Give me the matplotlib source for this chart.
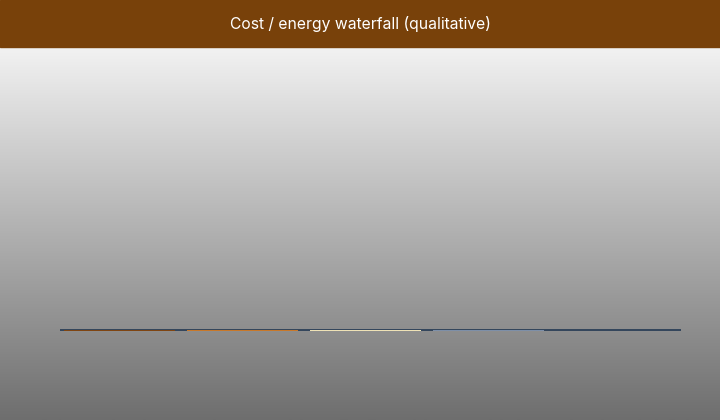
import numpy as np
import matplotlib
matplotlib.use("Agg")
import matplotlib.pyplot as plt
from matplotlib.patches import Rectangle

# waterfall steps (qualitative, all flat in the reference)
steps = ["Step 1", "Step 2", "Step 3", "Step 4", "Total"]
deltas = [0.0, 0.0, 0.0, 0.0, 0.0]
colors = ["#7f4512", "#c8782a", "#efe2b6", "#7d8fa8", "#34465c"]

fig = plt.figure(figsize=(7.2, 4.2), dpi=100)

# gradient background
bg = fig.add_axes([0, 0, 1, 1], zorder=0)
grad = np.linspace(0, 1, 256).reshape(-1, 1)
cmap = matplotlib.colors.LinearSegmentedColormap.from_list("bg", ["#f2f2f2", "#6e6e6e"])
bg.imshow(grad, aspect="auto", cmap=cmap, extent=[0, 1, 0, 1 - 47 / 420], origin="upper")
bg.set_xlim(0, 1)
bg.set_ylim(0, 1)
bg.axis("off")

# title bar
bg.add_patch(Rectangle((0, 1 - 47 / 420), 1, 47 / 420, color="#78410a", zorder=2))
bg.text(0.5, 1 - 24.5 / 420, "Cost / energy waterfall (qualitative)", color="white",
        ha="center", va="center", fontsize=11.3, family="Inter", zorder=3)

ax = fig.add_axes([60 / 720, 89 / 420, 621 / 720, 250 / 420], zorder=1)
ax.patch.set_alpha(0)

x = np.arange(len(steps))
bottoms = np.concatenate([[0], np.cumsum(deltas[:-1])])
bottoms[-1] = 0
heights = list(deltas[:-1]) + [sum(deltas[:-1])]
ax.axhline(0, color="#34465c", lw=1.45, zorder=1, antialiased=False)
ax.bar(x, heights, bottom=bottoms + 0.002, width=110 / 123, color=colors,
       edgecolor=colors, linewidth=0.75, zorder=2, antialiased=False)

ax.set_xlim(-0.48, 4.57)
ax.set_ylim(0, 1)
ax.axis("off")

fig.savefig("out.png", dpi=100)
